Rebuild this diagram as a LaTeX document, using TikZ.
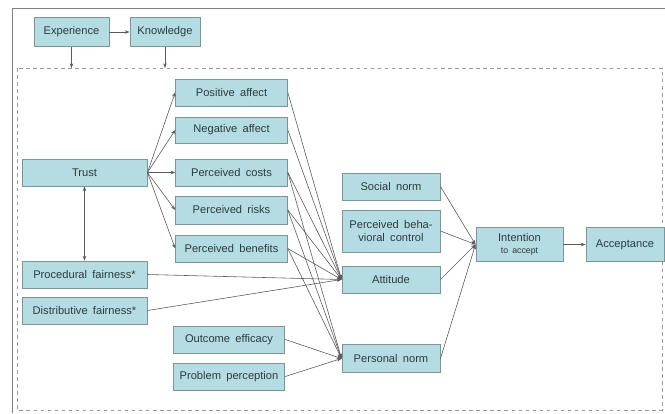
\documentclass[tikz,border=0pt]{standalone}
\usepackage{fontspec}
\setmainfont{Liberation Sans}[WordSpace=1.7]
\usetikzlibrary{arrows.meta}
\definecolor{boxfill}{HTML}{B5DCE2}
\definecolor{boxline}{HTML}{7C9598}
\definecolor{boxtext}{HTML}{2A3B3E}
\definecolor{linegray}{HTML}{5A5A5A}
\tikzset{
  box/.style={draw=boxline, line width=.8pt, fill=boxfill, text=boxtext, inner sep=1pt,
    align=center, font=\fontsize{9.5}{10.5}\selectfont},
  link/.style={draw=linegray, line width=.5pt, -{Stealth[length=4pt,width=3pt]}}
}
\begin{document}
\begin{tikzpicture}[x=0.03cm, y=-0.03cm]
	\useasboundingbox (0,0) rectangle (665,413);
	\draw [gray, line width=.8pt] (12,413) -- (12,8) -- (665,8);
	\draw [gray!80, dashed, line width=.6pt] (17,68) rectangle (662,410);
	\coordinate (frametop) at (17,68);

	\node [box, minimum width=2.25cm, minimum height=.87cm] (exper) at (71.5,32) {Experience};
	\node [box, minimum width=2.1cm, minimum height=.87cm] (knowl) at (165,32) {Knowledge};

	\node [box, minimum width=3.75cm, minimum height=.81cm] (trust) at (84.5,172.5) {Trust};
	\node [box, minimum width=3.75cm, minimum height=.81cm] (procfair) at (84.5,274.5) {Procedural fairness*};
	\node [box, minimum width=3.75cm, minimum height=.81cm] (distfair) at (84.5,310.5) {Distributive fairness*};

	\node [box, minimum width=3.35cm, minimum height=.81cm] (posaff) at (231.5,92.5) {Positive affect};
	\node [box, minimum width=3.35cm, minimum height=.78cm] (negaff) at (231.5,130) {Negative affect};
	\node [box, minimum width=3.35cm, minimum height=.81cm] (costs) at (231.5,172.5) {Perceived costs};
	\node [box, minimum width=3.35cm, minimum height=.84cm] (risks) at (231.5,210) {Perceived risks};
	\node [box, minimum width=3.35cm, minimum height=.81cm] (benef) at (231.5,248.5) {Perceived benefits};
	\node [box, minimum width=3.35cm, minimum height=.81cm] (outeff) at (229,339.5) {Outcome efficacy};
	\node [box, minimum width=3.35cm, minimum height=.81cm] (probper) at (229,376.5) {Problem perception};

	\node [box, minimum width=2.94cm, minimum height=.81cm] (social) at (391,186.5) {Social norm};
	\node [box, minimum width=2.94cm, minimum height=1.26cm] (pbc) at (391,231) {Perceived beha-\\vioral control};
	\node [box, minimum width=2.94cm, minimum height=.81cm] (attitude) at (391,279.5) {Attitude};
	\node [box, minimum width=2.94cm, minimum height=.84cm] (persnorm) at (391,358.5) {Personal norm};

	\node [box, minimum width=2.61cm, minimum height=1.02cm] (intent) at (519.5,244.5) {Intention\\{\fontsize{7.5}{9}\selectfont to accept}};
	\node [box, minimum width=2.34cm, minimum height=1.02cm] (accept) at (625,244.5) {Acceptance};

	\draw [link] (exper) -- (knowl);
	\draw [link] (exper.south) -- (exper.south |- frametop);
	\draw [link] (knowl.south) -- (knowl.south |- frametop);

	\draw [link] (trust.east) -- (posaff.west);
	\draw [link] (trust.east) -- (negaff.west);
	\draw [link] (trust.east) -- (costs.west);
	\draw [link] (trust.east) -- (risks.west);
	\draw [link] (trust.east) -- (benef.west);
	\draw [link, {Stealth[length=4pt,width=3pt]}-{Stealth[length=4pt,width=3pt]}] (trust.south) -- (procfair.north);

	\draw [link] (posaff.east) -- (attitude.west);
	\draw [link] (negaff.east) -- (attitude.west);
	\draw [link] (costs.east) -- (attitude.west);
	\draw [link] (risks.east) -- (attitude.west);
	\draw [link] (benef.east) -- (attitude.west);
	\draw [link] (procfair.east) -- (attitude.west);
	\draw [link] (distfair.east) -- (attitude.west);

	\draw [link] (costs.east) -- (persnorm.west);
	\draw [link] (risks.east) -- (persnorm.west);
	\draw [link] (benef.east) -- (persnorm.west);
	\draw [link] (outeff.east) -- (persnorm.west);
	\draw [link] (probper.east) -- (persnorm.west);

	\draw [link] (social.east) -- (intent.west);
	\draw [link] (pbc.east) -- (intent.west);
	\draw [link] (attitude.east) -- (intent.west);
	\draw [link] (persnorm.east) -- (intent.west);
	\draw [link] (intent) -- (accept);

\end{tikzpicture}
\end{document}
